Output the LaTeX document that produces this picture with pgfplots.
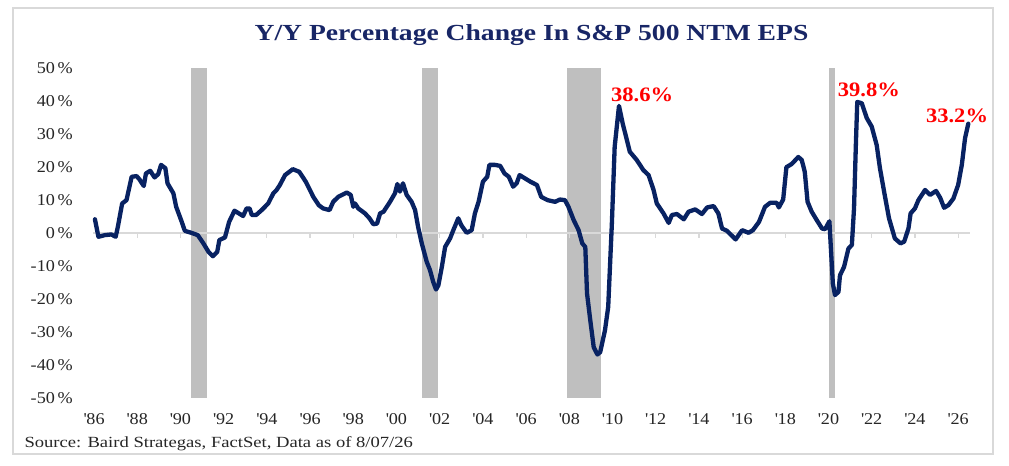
\documentclass[border=0pt]{standalone}
\usepackage{fontspec}
\setmainfont{Liberation Serif}
\newfontfamily\pal[FakeStretch=1.1]{Liberation Serif}
\newfontfamily\src[FakeStretch=1.2]{Liberation Serif}
\newfontfamily\ttl[FakeStretch=1.2]{Liberation Serif}
\usepackage{pgfplots}
\pgfplotsset{compat=1.18}
\definecolor{navy}{RGB}{8,34,98}
\definecolor{titleblue}{RGB}{24,38,102}
\definecolor{recess}{RGB}{191,191,191}
\definecolor{framegray}{RGB}{217,217,217}
\definecolor{ticktext}{RGB}{38,38,38}
\newcommand\q{\textquotesingle}
\begin{document}
\begin{tikzpicture}[x=1bp,y=1bp]
\useasboundingbox (0,0) rectangle (1009,466);
\fill[white] (0,0) rectangle (1009,466);
\draw[framegray, line width=1.5bp] (13,12) rectangle (993,458);
\node[font=\ttl\bfseries\fontsize{23bp}{26bp}\selectfont, text=titleblue, anchor=base] at (531.5,425.3) {Y/Y Percentage Change In S\&P 500 NTM EPS};
\node[font=\src\fontsize{15.5bp}{17bp}\selectfont, text=ticktext, anchor=base west] at (21,18) {Source: Baird Strategas, FactSet, Data as of 8/07/26};
\begin{axis}[
  at={(93bp,68bp)}, anchor=south west,
  scale only axis, width=877bp, height=329.7bp,
  xmin=1985.95, xmax=2026.55, ymin=-50, ymax=50,
  axis line style={draw=none},
  major tick length=0pt,
  clip=false,
  xtick={1986,1988,...,2026},
  xticklabels={\q86,\q88,\q90,\q92,\q94,\q96,\q98,\q00,\q02,\q04,\q06,\q08,\q10,\q12,\q14,\q16,\q18,\q20,\q22,\q24,\q26},
  ytick={-50,-40,...,50},
  yticklabels={-50\,\%,-40\,\%,-30\,\%,-20\,\%,-10\,\%,0\,\%,10\,\%,20\,\%,30\,\%,40\,\%,50\,\%},
  xticklabel style={font=\pal\fontsize{16.5bp}{18bp}\selectfont, text=ticktext, inner sep=0pt, anchor=north, yshift=-15bp},
  yticklabel style={font=\pal\fontsize{16.5bp}{18bp}\selectfont, text=ticktext, inner sep=0pt, anchor=east, xshift=-20bp},
]
\addplot[fill=recess, draw=none, forget plot] coordinates {(1990.5,-50) (1991.25,-50) (1991.25,50) (1990.5,50)} -- cycle;
\addplot[fill=recess, draw=none, forget plot] coordinates {(2001.17,-50) (2001.92,-50) (2001.92,50) (2001.17,50)} -- cycle;
\addplot[fill=recess, draw=none, forget plot] coordinates {(2007.9,-50) (2009.47,-50) (2009.47,50) (2007.9,50)} -- cycle;
\addplot[fill=recess, draw=none, forget plot] coordinates {(2020.0,-50) (2020.3,-50) (2020.3,50) (2020.0,50)} -- cycle;
\addplot[framegray, line width=1.5bp, forget plot] coordinates {(1985.95,0) (2026.55,0)};
\addplot[ycomb, framegray, line width=1.2bp, mark=none, forget plot] coordinates {(1988,-1.5)(1990,-1.5)(1992,-1.5)(1994,-1.5)(1996,-1.5)(1998,-1.5)(2000,-1.5)(2002,-1.5)(2004,-1.5)(2006,-1.5)(2008,-1.5)(2010,-1.5)(2012,-1.5)(2014,-1.5)(2016,-1.5)(2018,-1.5)(2020,-1.5)(2022,-1.5)(2024,-1.5)(2026,-1.5)};
\addplot[navy, line width=4.3bp, line join=round, line cap=round] table {
x y
1986.04 4.2
1986.2 -1.1
1986.5 -0.6
1986.8 -0.4
1987.0 -1.1
1987.1 1.9
1987.3 9.0
1987.5 10.0
1987.74 17.1
1987.97 17.3
1988.1 16.3
1988.3 14.3
1988.4 18.1
1988.6 18.9
1988.8 16.9
1988.97 17.9
1989.1 20.7
1989.3 19.7
1989.4 15.1
1989.67 12.1
1989.8 8.0
1990.06 3.4
1990.2 0.7
1990.5 0.1
1990.8 -0.6
1991.06 -3.1
1991.3 -5.7
1991.5 -7.0
1991.7 -5.7
1991.8 -2.1
1992.06 -1.3
1992.25 3.4
1992.5 6.8
1992.75 5.8
1992.9 5.2
1993.06 7.5
1993.2 7.5
1993.3 5.5
1993.5 5.5
1993.76 7.0
1994.06 9.0
1994.3 12.1
1994.45 13.1
1994.6 14.6
1994.84 17.6
1995.2 19.4
1995.5 18.6
1995.8 15.6
1996.15 11.0
1996.4 8.5
1996.6 7.5
1996.9 7.0
1997.07 9.5
1997.3 11.0
1997.54 11.8
1997.7 12.3
1997.88 11.6
1998.0 8.0
1998.08 9.0
1998.23 7.5
1998.54 6.0
1998.75 4.5
1998.93 2.7
1999.1 2.9
1999.24 6.0
1999.4 6.5
1999.7 9.5
1999.93 12.1
2000.04 14.9
2000.16 12.6
2000.3 15.1
2000.47 11.6
2000.7 9.5
2000.86 7.0
2001.0 1.9
2001.17 -3.1
2001.4 -8.7
2001.55 -11.2
2001.7 -14.8
2001.83 -17.1
2001.94 -15.8
2002.1 -10.2
2002.25 -4.2
2002.48 -1.6
2002.63 0.9
2002.86 4.5
2003.0 2.4
2003.25 0.1
2003.48 0.9
2003.63 6.0
2003.8 9.5
2004.0 15.6
2004.2 17.1
2004.3 20.7
2004.56 20.7
2004.8 20.4
2005.0 18.1
2005.2 17.1
2005.4 14.1
2005.56 15.1
2005.7 17.6
2005.95 16.6
2006.2 15.6
2006.5 14.6
2006.7 11.0
2007.0 10.0
2007.34 9.5
2007.57 10.2
2007.8 10.0
2007.96 8.0
2008.2 4.0
2008.43 0.9
2008.6 -3.1
2008.74 -4.2
2008.82 -18.3
2008.97 -26.4
2009.13 -34.6
2009.3 -36.8
2009.43 -36.1
2009.65 -29.5
2009.8 -22.4
2009.97 2.9
2010.1 26.2
2010.3 38.6
2010.47 33.3
2010.8 24.7
2011.12 22.2
2011.43 19.1
2011.67 17.6
2011.9 13.1
2012.05 9.0
2012.36 6.0
2012.6 3.1
2012.75 5.5
2012.98 5.8
2013.3 4.2
2013.52 6.5
2013.83 7.2
2014.14 5.8
2014.38 7.8
2014.68 8.2
2014.9 6.0
2015.07 1.4
2015.3 0.7
2015.7 -1.9
2016.0 0.9
2016.3 0.1
2016.5 0.9
2016.78 3.4
2017.06 8.0
2017.3 9.2
2017.6 9.2
2017.7 7.8
2017.9 10.2
2018.05 20.0
2018.3 21.0
2018.6 23.1
2018.76 22.2
2018.9 18.6
2019.03 9.5
2019.22 6.5
2019.45 4.0
2019.7 1.4
2019.84 1.2
2020.04 3.6
2020.2 -15.3
2020.3 -18.8
2020.46 -17.8
2020.53 -12.8
2020.72 -10.2
2020.92 -4.7
2021.08 -3.6
2021.18 7.5
2021.27 27.8
2021.33 39.8
2021.54 39.4
2021.77 34.9
2022.0 32.3
2022.23 26.7
2022.38 19.7
2022.6 11.6
2022.8 4.5
2023.07 -1.6
2023.33 -3.1
2023.5 -2.6
2023.7 1.4
2023.8 6.0
2024.0 7.5
2024.16 10.0
2024.47 13.1
2024.7 11.6
2024.98 12.8
2025.17 10.7
2025.35 7.7
2025.55 8.5
2025.78 10.5
2026.0 14.6
2026.17 20.7
2026.32 28.8
2026.47 33.2
};
\node[text=red, font=\pal\bfseries\fontsize{20.5bp}{22bp}\selectfont] at (axis cs:2011.37,41.9) {38.6\%};
\node[text=red, font=\pal\bfseries\fontsize{20.5bp}{22bp}\selectfont] at (axis cs:2021.87,43.4) {39.8\%};
\node[text=red, font=\pal\bfseries\fontsize{20.5bp}{22bp}\selectfont] at (axis cs:2025.95,35.5) {33.2\%};
\end{axis}
\end{tikzpicture}
\end{document}
